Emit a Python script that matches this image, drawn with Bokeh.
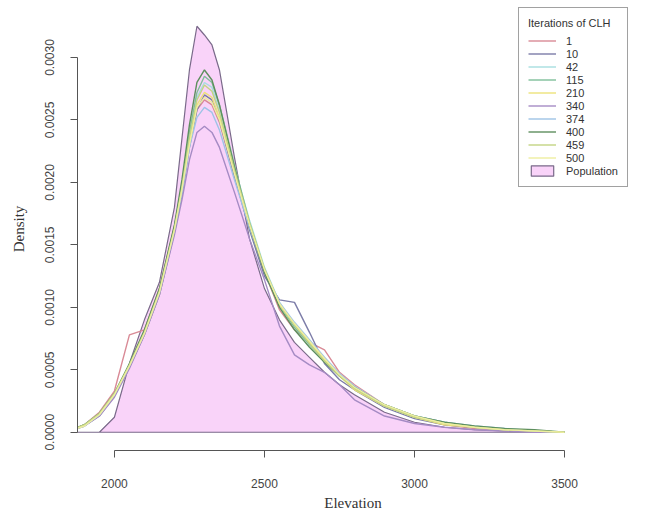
from bokeh.plotting import figure
from bokeh.models import Range1d, Legend, LegendItem, FixedTicker, NumeralTickFormatter
from bokeh.embed import file_html
from bokeh.resources import INLINE

# Elevation grid (m)
elevation = [1850, 1900, 1950, 2000, 2050, 2100, 2150, 2200, 2225, 2250, 2275, 2300, 2325,
             2350, 2400, 2450, 2500, 2550, 2600, 2650, 2700, 2750, 2800, 2900, 3000, 3100,
             3200, 3300, 3400, 3500]

population = [0.0, 0.0, 0.0, 0.00012, 0.00055, 0.0009, 0.0012, 0.0018, 0.00235, 0.0029, 0.00325,
              0.00318, 0.0031, 0.0029, 0.0022, 0.00155, 0.00115, 0.0009, 0.00072, 0.0006, 0.00048,
              0.00038, 0.0003, 0.00016, 0.00008, 0.00004, 0.00002, 0.00001, 0.000005, 0.0]

it_1 = [0.00001, 0.00006, 0.00016, 0.00033, 0.00078, 0.00082, 0.00115, 0.00165, 0.00195, 0.00232,
        0.00258, 0.00266, 0.00262, 0.00248, 0.00205, 0.00165, 0.00128, 0.00098, 0.00082, 0.00072,
        0.00066, 0.00048, 0.00038, 0.00022, 0.00012, 0.00006, 0.00003, 0.00002, 0.00001, 0.0]
it_10 = [0.00001, 0.00005, 0.00013, 0.00029, 0.00052, 0.00078, 0.0011, 0.0016, 0.0019, 0.00228,
         0.00258, 0.0027, 0.00266, 0.0025, 0.00205, 0.00162, 0.00125, 0.00106, 0.00104, 0.0008,
         0.00055, 0.00042, 0.00034, 0.0002, 0.00011, 0.00006, 0.00004, 0.00002, 0.00001, 0.0]
it_42 = [0.00001, 0.00005, 0.00014, 0.0003, 0.00054, 0.0008, 0.00112, 0.00162, 0.00196, 0.00236,
         0.00268, 0.0028, 0.00276, 0.00258, 0.00212, 0.0017, 0.00132, 0.00104, 0.00086, 0.00071,
         0.00058, 0.00045, 0.00035, 0.00021, 0.00012, 0.00007, 0.00004, 0.00002, 0.00001, 0.0]
it_115 = [0.00001, 0.00006, 0.00015, 0.00031, 0.00054, 0.00081, 0.00114, 0.00164, 0.00198, 0.0024,
          0.00272, 0.00285, 0.0028, 0.00262, 0.00214, 0.00168, 0.0013, 0.00102, 0.00084, 0.0007,
          0.00058, 0.00046, 0.00036, 0.00022, 0.00013, 0.00008, 0.00004, 0.00002, 0.00001, 0.0]
it_210 = [0.00001, 0.00005, 0.00014, 0.0003, 0.00053, 0.00079, 0.00111, 0.00162, 0.00194, 0.00232,
          0.00262, 0.00272, 0.00268, 0.00252, 0.00208, 0.00166, 0.0013, 0.00102, 0.00086, 0.00072,
          0.00058, 0.00045, 0.00034, 0.00021, 0.00012, 0.00006, 0.00004, 0.00002, 0.00001, 0.0]
it_340 = [0.00001, 0.00005, 0.00013, 0.00028, 0.00051, 0.00078, 0.0011, 0.00158, 0.00186, 0.00218,
          0.0024, 0.00245, 0.0024, 0.00228, 0.00192, 0.00155, 0.00122, 0.00085, 0.00062, 0.00054,
          0.00048, 0.00038, 0.00026, 0.00013, 0.00007, 0.00004, 0.00002, 0.00001, 0.0, 0.0]
it_374 = [0.00001, 0.00005, 0.00014, 0.0003, 0.00053, 0.0008, 0.00112, 0.00162, 0.00192, 0.00228,
          0.00252, 0.0026, 0.00256, 0.00242, 0.00202, 0.00164, 0.0013, 0.00104, 0.00088, 0.00074,
          0.0006, 0.00047, 0.00037, 0.00022, 0.00013, 0.00008, 0.00005, 0.00003, 0.00001, 0.0]
it_400 = [0.00001, 0.00006, 0.00015, 0.00031, 0.00055, 0.00082, 0.00115, 0.00166, 0.00202, 0.00246,
          0.0028, 0.0029, 0.00282, 0.00262, 0.00212, 0.00166, 0.00128, 0.001, 0.00082, 0.00068,
          0.00056, 0.00045, 0.00036, 0.00022, 0.00013, 0.00008, 0.00005, 0.00003, 0.00002, 0.0]
it_459 = [0.00001, 0.00006, 0.00015, 0.00031, 0.00054, 0.0008, 0.00113, 0.00163, 0.00196, 0.00236,
          0.00266, 0.00278, 0.00273, 0.00256, 0.0021, 0.00168, 0.00131, 0.00103, 0.00086, 0.00071,
          0.00057, 0.00045, 0.00035, 0.00021, 0.00012, 0.00007, 0.00004, 0.00002, 0.00001, 0.0]
it_500 = [0.00001, 0.00005, 0.00014, 0.0003, 0.00053, 0.00079, 0.00112, 0.00162, 0.00194, 0.0023,
          0.0026, 0.00268, 0.00264, 0.0025, 0.00207, 0.00166, 0.0013, 0.00103, 0.00087, 0.00073,
          0.00059, 0.00046, 0.00036, 0.00022, 0.00013, 0.00007, 0.00004, 0.00002, 0.00001, 0.0]

iteration_labels = ["1", "10", "42", "115", "210", "340", "374", "400", "459", "500"]
iteration_series = [it_1, it_10, it_42, it_115, it_210, it_340, it_374, it_400, it_459, it_500]
iteration_colors = ["#D98A96", "#7C7CA8", "#A6DEE0", "#7FBF9A", "#EDE27A",
                    "#A58BC4", "#9EC3E6", "#5E8F5E", "#C3D483", "#EEEEA0"]

x_ticks = [2000, 2500, 3000, 3500]
y_ticks = [0.0, 0.0005, 0.001, 0.0015, 0.002, 0.0025, 0.003]

p = figure(width=640, height=515, output_backend="svg", toolbar_location=None,
           x_range=Range1d(1877, 3713), y_range=Range1d(-0.000146, 0.0034),
           min_border_left=77, min_border_right=12, min_border_top=7, min_border_bottom=65)
p.outline_line_color = None
p.xgrid.grid_line_color = None
p.ygrid.grid_line_color = None
p.background_fill_color = "white"

pop_r = p.patch(elevation, population, fill_color="#F9D3F9", line_color="#7A6A8A", line_width=1.2)

items = []
for lab, ser, col in zip(iteration_labels, iteration_series, iteration_colors):
    r = p.line(elevation, ser, line_color=col, line_width=1.4)
    items.append(LegendItem(label=lab, renderers=[r]))
items.append(LegendItem(label="Population", renderers=[pop_r]))

legend = Legend(items=items, location="top_right", title="Iterations of CLH",
                title_text_font="Liberation Sans", title_text_font_size="11px",
                title_text_font_style="normal", title_text_color="#333333",
                label_text_font="Liberation Sans", label_text_font_size="11px",
                label_text_color="#333333", glyph_height=13, glyph_width=28,
                label_height=13, spacing=0, padding=9, margin=0,
                border_line_color="#444444", border_line_width=1,
                background_fill_alpha=1.0, label_standoff=10)
p.add_layout(legend)

for ax in (p.xaxis[0], p.yaxis[0]):
    ax.axis_line_color = "#555555"
    ax.major_tick_line_color = "#555555"
    ax.minor_tick_line_color = None
    ax.major_tick_in = 0
    ax.major_tick_out = 7
    ax.major_label_text_font = "Liberation Sans"
    ax.major_label_text_font_size = "12px"
    ax.major_label_text_color = "#444444"
    ax.axis_label_text_font = "Liberation Serif"
    ax.axis_label_text_font_size = "15px"
    ax.axis_label_text_font_style = "normal"
    ax.axis_label_text_color = "#333333"

p.xaxis[0].ticker = FixedTicker(ticks=x_ticks)
p.xaxis[0].bounds = (2000, 3500)
p.xaxis[0].axis_label = "Elevation"
p.xaxis[0].major_label_standoff = 21
p.xaxis[0].axis_label_standoff = 4

p.yaxis[0].ticker = FixedTicker(ticks=y_ticks)
p.yaxis[0].bounds = (0, 0.003)
p.yaxis[0].formatter = NumeralTickFormatter(format="0.0000")
p.yaxis[0].major_label_orientation = "vertical"
p.yaxis[0].axis_label = "Density"
p.yaxis[0].major_label_standoff = 16
p.yaxis[0].axis_label_standoff = 16

open("out.html", "w").write(file_html(p, INLINE))
